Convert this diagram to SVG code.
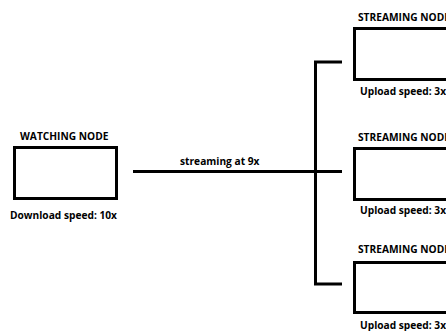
<svg xmlns="http://www.w3.org/2000/svg" width="446" height="331" viewBox="0 0 446 331">
<style>
.box{fill:#fff;stroke:#000;stroke-width:3}
.t{font-family:"Open Sans","Liberation Sans",sans-serif;font-weight:bold;font-size:10.2px;fill:#000}
.ln{stroke:#000;stroke-width:3;fill:none}
</style>
<rect width="446" height="331" fill="#fff"/>
<g id="connectors">
<line class="ln" x1="133" y1="171.5" x2="316" y2="171.5"/>
<polyline class="ln" points="342,62 315.5,62 315.5,284 342,284"/>
<line class="ln" x1="315" y1="171.5" x2="342" y2="171.5"/>
</g>
<text class="t" x="180" y="164.5">streaming at 9x</text>
<g id="watching">
<text class="t" x="20" y="139.5">WATCHING NODE</text>
<rect class="box" x="14.5" y="147.5" width="102" height="51"/>
<text class="t" x="10" y="218.5">Download speed: 10x</text>
</g>
<g id="stream1">
<text class="t" x="358" y="20.5">STREAMING NODE</text>
<rect class="box" x="354.5" y="28.5" width="120" height="51"/>
<text class="t" x="360" y="94.5">Upload speed: 3x</text>
</g>
<g id="stream2">
<text class="t" x="358" y="140.5">STREAMING NODE</text>
<rect class="box" x="354.5" y="148.5" width="120" height="51"/>
<text class="t" x="360" y="213.5">Upload speed: 3x</text>
</g>
<g id="stream3">
<text class="t" x="358" y="252.5">STREAMING NODE</text>
<rect class="box" x="354.5" y="262.5" width="120" height="50"/>
<text class="t" x="360" y="328.5">Upload speed: 3x</text>
</g>
</svg>
